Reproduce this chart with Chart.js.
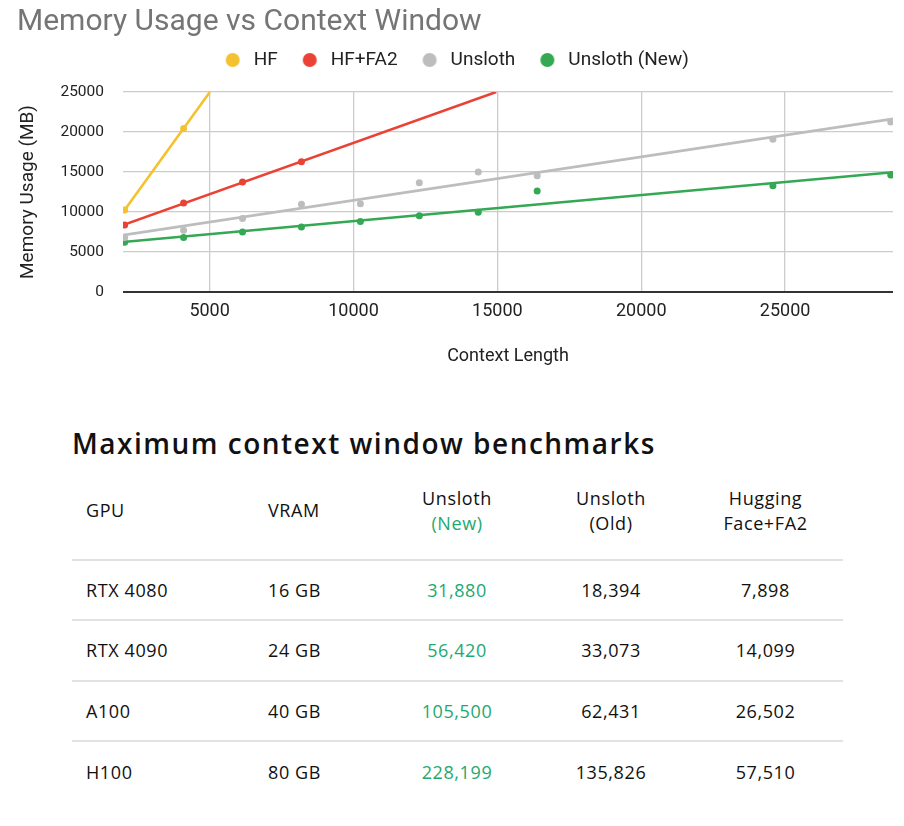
<!DOCTYPE html>
<html>
<head>
<meta charset="utf-8">
<script src="https://cdn.jsdelivr.net/npm/chart.js@4.4.1/dist/chart.umd.min.js"></script>
<style>
  html, body { margin: 0; padding: 0; background: #fff; }
  body { width: 904px; height: 826px; position: relative; overflow: hidden; }
  #chartBox { position: absolute; left: 0; top: 0; width: 904px; height: 380px; }
  #tblTitle { position: absolute; left: 72px; top: 424px; font: 600 28px "Open Sans", sans-serif; letter-spacing: 1.5px; color: #111; white-space: nowrap; }
  #tbl { position: absolute; left: 72px; top: 462px; width: 771px; font: 500 18px "Open Sans", sans-serif; letter-spacing: 0.6px; color: #111; }
  .row { display: flex; align-items: center; border-bottom: 2px solid #e2e2e2; box-sizing: border-box; }
  .row:last-child { border-bottom: none; }
  .head { height: 99px; line-height: 25px; }
  .body { height: 60.3px; }
  .c1 { width: 182px; padding-left: 14px; box-sizing: border-box; }
  .c2 { width: 126px; padding-left: 14px; box-sizing: border-box; }
  .c3 { width: 154px; text-align: center; }
  .c4 { width: 154px; text-align: center; }
  .c5 { width: 155px; text-align: center; }
  .green { color: #22a971; }
</style>
</head>
<body>
<div id="chartBox"><canvas id="memChart"></canvas></div>
<div id="tblTitle">Maximum context window benchmarks</div>
<div id="tbl"></div>
<script>
// context lengths where memory was measured
const contextLen = [2048, 4096, 6144, 8192, 10240, 12288, 14336, 16384, 24576, 28672];
const hfMem = [10257, 20436];
const hfFa2Mem = [8387, 11129, 13746, 16277];
const unslothMem = [6805, 7727, 9173, 10967, 11042, 13659, 14993, 14532, 19105, 21262];
const unslothNewMem = [6231, 6805, 7515, 8138, 8799, 9546, 9970, 12625, 13285, 14619];

// linear trendlines, start/end points
const trendStartX = [1990, 1990, 1990, 1990];
const trendStartY = [9970, 8370, 7110, 6255];
const trendEndX = [5010, 14960, 28750, 28750];
const trendEndY = [25000, 25000, 21640, 14977];

const seriesNames = ['HF', 'HF+FA2', 'Unsloth', 'Unsloth (New)'];
const seriesColors = ['#f4c230', '#ea4335', '#bdbdbd', '#34a853'];
const seriesMem = [hfMem, hfFa2Mem, unslothMem, unslothNewMem];

const xTicks = [5000, 10000, 15000, 20000, 25000];

// benchmark table
const gpus = ['RTX 4080', 'RTX 4090', 'A100', 'H100'];
const vram = ['16 GB', '24 GB', '40 GB', '80 GB'];
const unslothNewCtx = ['31,880', '56,420', '105,500', '228,199'];
const unslothOldCtx = ['18,394', '33,073', '62,431', '135,826'];
const hfFa2Ctx = ['7,898', '14,099', '26,502', '57,510'];

function dot(color) {
  const c = document.createElement('canvas');
  c.width = 16; c.height = 16;
  const g = c.getContext('2d');
  g.fillStyle = color;
  g.beginPath();
  g.arc(8, 8, 7, 0, Math.PI * 2);
  g.fill();
  return c;
}

const datasets = [];
seriesMem.forEach((mem, i) => {
  datasets.push({
    label: seriesNames[i],
    data: mem.map((v, j) => ({ x: contextLen[j], y: v })),
    backgroundColor: seriesColors[i],
    borderColor: seriesColors[i],
    pointRadius: 3.5,
    pointBorderWidth: 0,
    showLine: false
  });
});
seriesMem.forEach((mem, i) => {
  datasets.push({
    label: seriesNames[i] + ' trend',
    trend: true,
    data: [{ x: trendStartX[i], y: trendStartY[i] }, { x: trendEndX[i], y: trendEndY[i] }],
    borderColor: seriesColors[i],
    borderWidth: 2.6,
    pointRadius: 0,
    showLine: true
  });
});

new Chart(document.getElementById('memChart'), {
  type: 'scatter',
  data: { datasets },
  options: {
    responsive: true,
    maintainAspectRatio: false,
    animation: false,
    layout: { padding: { left: 17, right: 11, top: 0, bottom: 0 } },
    plugins: {
      tooltip: { enabled: false },
      title: {
        display: true,
        text: 'Memory Usage vs Context Window',
        align: 'start',
        color: '#757575',
        font: { family: 'Roboto', size: 30, weight: 'normal', lineHeight: 1.2 },
        padding: { top: 4, bottom: -10 }
      },
      // empty spacer between the legend and the plot
      subtitle: {
        display: true,
        text: '',
        weight: 500,
        font: { size: 10, lineHeight: 1.2 },
        padding: { top: 0, bottom: 0.5 }
      },
      legend: {
        display: true,
        labels: {
          color: '#222',
          font: { family: 'Roboto', size: 19 },
          usePointStyle: true,
          pointStyleWidth: 23,
          padding: 20.5,
          filter: item => !datasets[item.datasetIndex].trend,
          generateLabels(chart) {
            return Chart.defaults.plugins.legend.labels.generateLabels(chart).map(l => {
              l.pointStyle = dot(seriesColors[l.datasetIndex % 4]);
              return l;
            });
          }
        }
      }
    },
    scales: {
      x: {
        type: 'linear',
        min: 1990,
        max: 28750,
        afterBuildTicks: scale => { scale.ticks = xTicks.map(v => ({ value: v })); },
        afterFit: scale => { scale.height = 88; },
        grid: { color: '#cccccc', lineWidth: 1.3, drawTicks: false },
        border: { display: false },
        ticks: { color: '#222', font: { family: 'Roboto', size: 18 }, padding: 9, maxRotation: 0, callback: v => String(v) },
        title: {
          display: true,
          text: 'Context Length',
          color: '#222',
          font: { family: 'Roboto', size: 18 },
          padding: { top: 0, bottom: 13 }
        }
      },
      y: {
        min: 0,
        max: 25000,
        afterFit: scale => { scale.width = 106; },
        grid: {
          color: c => c.tick.value === 0 ? '#333333' : '#cccccc',
          lineWidth: c => c.tick.value === 0 ? 2 : 1.3,
          drawTicks: false
        },
        border: { display: false },
        ticks: { stepSize: 5000, color: '#222', font: { family: 'Roboto', size: 15.5 }, padding: 19, callback: v => String(v) },
        title: {
          display: true,
          text: 'Memory Usage (MB)',
          color: '#222',
          font: { family: 'Roboto', size: 19 },
          padding: { top: 0, bottom: 0 }
        }
      }
    }
  }
});

// build the table
const tbl = document.getElementById('tbl');
let html = '<div class="row head"><div class="c1">GPU</div><div class="c2">VRAM</div>' +
  '<div class="c3">Unsloth<br><span class="green">(New)</span></div>' +
  '<div class="c4">Unsloth<br>(Old)</div><div class="c5">Hugging<br>Face+FA2</div></div>';
gpus.forEach((g, i) => {
  html += '<div class="row body"><div class="c1">' + g + '</div><div class="c2">' + vram[i] + '</div>' +
    '<div class="c3 green">' + unslothNewCtx[i] + '</div><div class="c4">' + unslothOldCtx[i] + '</div>' +
    '<div class="c5">' + hfFa2Ctx[i] + '</div></div>';
});
tbl.innerHTML = html;
</script>
</body>
</html>
